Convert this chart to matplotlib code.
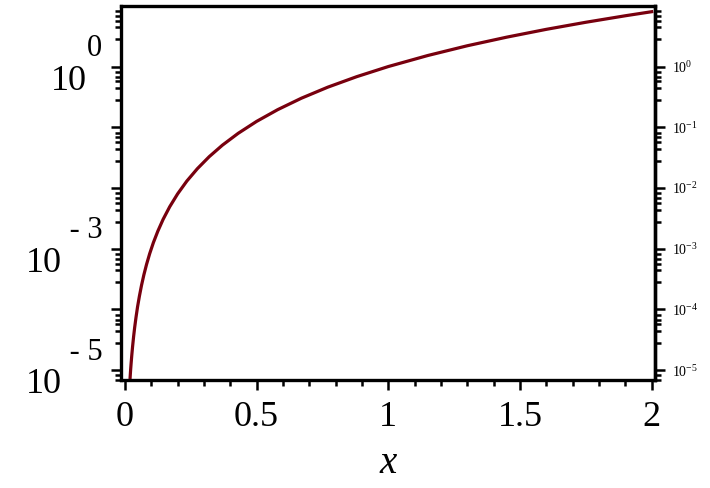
import matplotlib
matplotlib.use('Agg')
import matplotlib.pyplot as plt
from matplotlib.ticker import LogLocator, NullFormatter, MultipleLocator

# curve (x, y)
x_vals = [0.0197, 0.0215, 0.0235, 0.026, 0.029, 0.033, 0.037, 0.042, 0.048, 0.055,
          0.063, 0.072, 0.082, 0.094, 0.108, 0.125, 0.145, 0.17, 0.2, 0.235,
          0.275, 0.32, 0.37, 0.43, 0.5, 0.58, 0.67, 0.77, 0.88, 1.0,
          1.15, 1.3, 1.45, 1.6, 1.75, 1.9, 2.0]
y_vals = [7.6e-6, 1.0e-5, 1.3e-5, 1.76e-5, 2.44e-5, 3.6e-5, 5.07e-5, 7.4e-5, 1.11e-4, 1.66e-4,
          2.5e-4, 3.73e-4, 5.51e-4, 8.3e-4, 1.26e-3, 1.95e-3, 3.05e-3, 4.91e-3, 8.0e-3, 1.3e-2,
          2.08e-2, 3.28e-2, 5.07e-2, 7.95e-2, 0.125, 0.195, 0.301, 0.457, 0.681, 1.0,
          1.52, 2.2, 3.05, 4.1, 5.36, 6.86, 8.0]

left_exps = [0, -3, -5]
left_exp_text = ['0', ' - 3', ' - 5']
right_exps = [0, -1, -2, -3, -4, -5]
right_labels = ['$10^{0}$', '$10^{-1}$', '$10^{-2}$', '$10^{-3}$', '$10^{-4}$', '$10^{-5}$']
x_ticks = [0, 0.5, 1, 1.5, 2]
x_tick_labels = ['0', '0.5', '1', '1.5', '2']
minor_subs = [2.8, 4.4, 5.7, 6.8, 8.2]

plt.rcParams['font.family'] = 'Liberation Serif'
plt.rcParams['mathtext.fontset'] = 'custom'
plt.rcParams['mathtext.rm'] = 'Liberation Serif'
plt.rcParams['mathtext.it'] = 'Liberation Serif:italic'

fig = plt.figure(figsize=(7.1, 4.88), dpi=100)
ax = fig.add_axes([0.1704, 0.2203, 0.7521, 0.7674])
ax.plot(x_vals, y_vals, color='#78000e', lw=2.3)
ax.set_yscale('log')
ax.set_xlim(-0.015, 2.0125)
ax.set_ylim(10**-5.17, 10**0.997)

for s in ax.spines.values():
    s.set_linewidth(2.4)

# x axis
ax.set_xticks(x_ticks, x_tick_labels)
ax.xaxis.set_minor_locator(MultipleLocator(0.1))
ax.tick_params(axis='x', which='major', direction='out', length=7.5, width=1.8,
               labelsize=26, pad=7, top=False)
ax.tick_params(axis='x', which='minor', direction='out', length=4.5, width=1.8, top=False)
ax.set_xlabel('x', fontsize=28, style='italic', labelpad=8)

# left y axis: ticks every decade, labels drawn by hand
ax.yaxis.set_major_locator(LogLocator(base=10, numticks=20))
ax.yaxis.set_minor_locator(LogLocator(base=10, subs=minor_subs, numticks=20))
ax.yaxis.set_major_formatter(NullFormatter())
ax.yaxis.set_minor_formatter(NullFormatter())
ax.tick_params(axis='y', which='major', direction='out', length=7.5, width=1.8, right=False)
ax.tick_params(axis='y', which='minor', direction='out', length=4, width=1.8, right=False)

for e, t in zip(left_exps, left_exp_text):
    ex = ax.annotate(t, xy=(0, 10.0**e), xycoords=('axes fraction', 'data'),
                     xytext=(-13.5, 13), textcoords='offset points',
                     ha='right', va='center', fontsize=22)
    ax.annotate('10', xy=(0, 0.5), xycoords=ex, xytext=(0, -23.5),
                textcoords='offset points', ha='right', va='center', fontsize=26)

# right y axis, small labels on every decade
sec = ax.secondary_yaxis('right')
sec.spines['right'].set_linewidth(2.4)
sec.set_yticks([10.0**e for e in right_exps], right_labels)
sec.yaxis.set_minor_locator(LogLocator(base=10, subs=minor_subs, numticks=20))
sec.yaxis.set_minor_formatter(NullFormatter())
sec.tick_params(which='major', direction='out', length=7.5, width=1.8, labelsize=10, pad=5)
sec.tick_params(which='minor', direction='out', length=4, width=1.8)

fig.savefig('out.png', dpi=100)
